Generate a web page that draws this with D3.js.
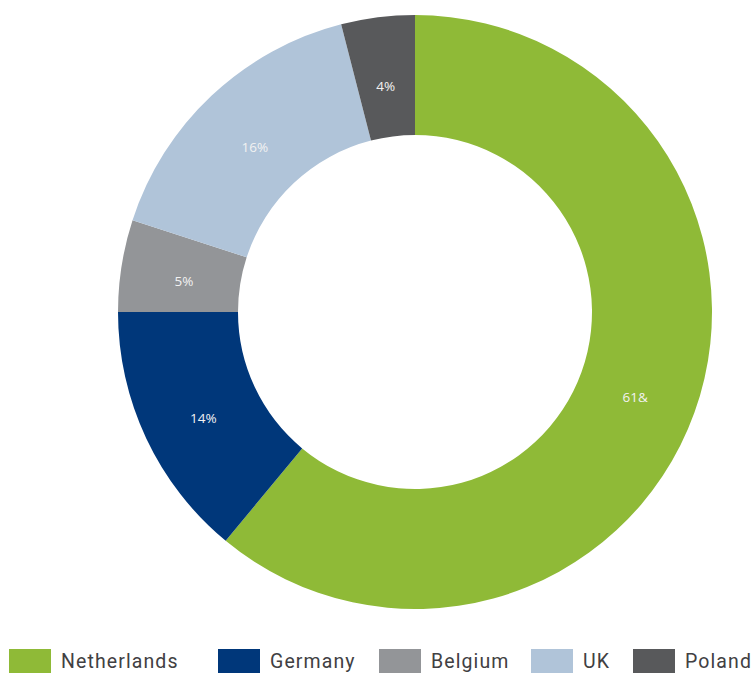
<!DOCTYPE html>
<html>
<head>
<meta charset="utf-8">
<script src="https://cdn.jsdelivr.net/npm/d3@7"></script>
<style>
  body { margin: 0; background: #fff; }
</style>
</head>
<body>
<div id="chart"></div>
<script>
// chart data
var countries = ["Netherlands", "Germany", "Belgium", "UK", "Poland"];
var shares = [61, 14, 5, 16, 4];
var sliceLabels = ["61&", "14%", "5%", "16%", "4%"];
var colors = ["#8fba37", "#00377a", "#939598", "#b0c4d9", "#58595b"];

var width = 751, height = 673;
var cx = 415, cy = 312,
	outerR = 297, innerR = 177;

var svg = d3.select("#chart")
	.append("svg")
	.attr("width", width)
	.attr("height", height);

var g = svg.append("g")
	.attr("transform", "translate(" + cx + "," + cy + ")");

var pie = d3.pie()
	.sort(null)
	.value(d => d);

var arc = d3.arc()
	.innerRadius(innerR)
	.outerRadius(outerR);

var labelArc = d3.arc()
	.innerRadius(234)
	.outerRadius(234);

var arcs = pie(shares);

g.selectAll("path")
	.data(arcs)
	.enter()
	.append("path")
	.attr("d", arc)
	.attr("fill", (d, i) => colors[i]);

g.selectAll("text.slice")
	.data(arcs)
	.enter()
	.append("text")
	.attr("class", "slice")
	.attr("transform", d => "translate(" + labelArc.centroid(d) + ")")
	.attr("text-anchor", "middle")
	.attr("dy", "11")
	.attr("font-family", "Open Sans")
	.style("font-size", "13.5px")
	.attr("fill", "#f2f2f2")
	.text((d, i) => sliceLabels[i]);

// legend
var legendPos = [9, 218, 379, 531, 633];

var legend = svg.append("g")
	.selectAll("g")
	.data(countries)
	.enter()
	.append("g")
	.attr("transform", (d, i) => "translate(" + legendPos[i] + ",649)");

legend.append("rect")
	.attr("width", 42)
	.attr("height", 24)
	.attr("fill", (d, i) => colors[i]);

legend.append("text")
	.attr("x", 52)
	.attr("y", 19)
	.attr("font-family", "Roboto")
	.style("font-size", "19.5px")
	.style("letter-spacing", "1.1px")
	.attr("fill", "#414042")
	.text(d => d);
</script>
</body>
</html>
